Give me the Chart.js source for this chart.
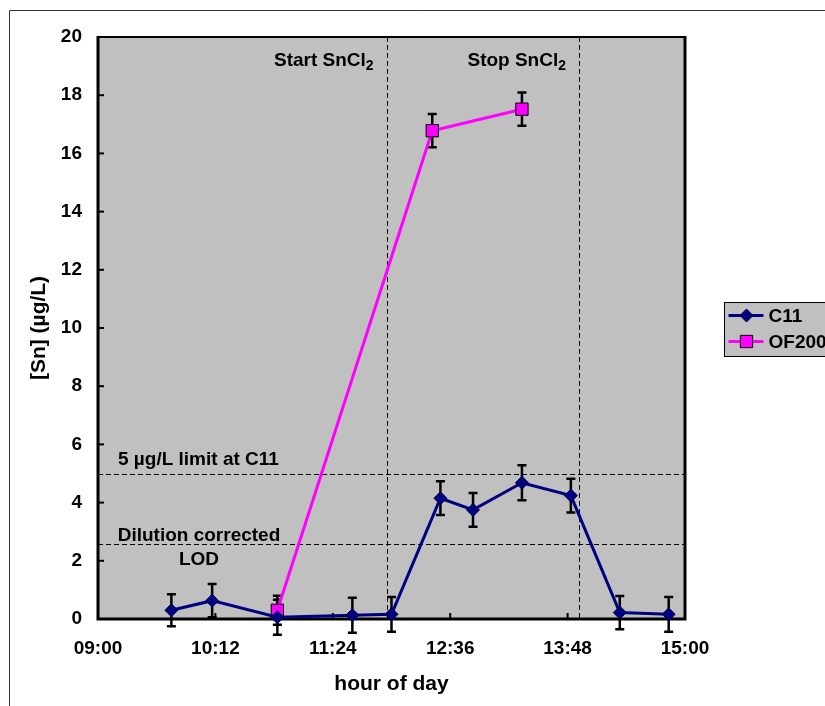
<!DOCTYPE html>
<html>
<head>
<meta charset="utf-8">
<script src="https://cdn.jsdelivr.net/npm/chart.js@4/dist/chart.umd.min.js"></script>
<style>
  html, body { margin: 0; padding: 0; background: #fff; }
</style>
</head>
<body>
<canvas id="chart" width="825" height="706"></canvas>
<script>
// sampling times (hh:mm) and tin concentrations in µg/L, with error bar half widths
const c11Times = ['09:45', '10:10', '10:50', '11:36', '12:00', '12:30', '12:50', '13:20', '13:50', '14:20', '14:50'];
const c11Values = [0.30, 0.63, 0.06, 0.13, 0.16, 4.15, 3.75, 4.68, 4.24, 0.22, 0.16];
const c11Errors = [0.55, 0.57, 0.60, 0.60, 0.60, 0.58, 0.58, 0.60, 0.58, 0.57, 0.60];

const of200Times = ['10:50', '12:25', '13:20'];
const of200Values = [0.30, 16.78, 17.52];
const of200Errors = [0.50, 0.57, 0.57];

const xTickLabels = ['09:00', '10:12', '11:24', '12:36', '13:48', '15:00'];
const yTickValues = [0, 2, 4, 6, 8, 10, 12, 14, 16, 18, 20];

// SnCl2 dosing start / stop and the two reference levels
const eventTimes = ['11:57', '13:55'];
const eventLabels = ['Start SnCl', 'Stop SnCl'];
const limitLevels = [5, 2.57];

const FONT = "'Liberation Sans', Arial, sans-serif";
Chart.defaults.font.family = FONT;
Chart.defaults.color = '#000';

function toMin(s) {
    const p = s.split(':');
    return (+p[0]) * 60 + (+p[1]) - 9 * 60;
}

function points(times, values) {
    return times.map((t, i) => ({ x: toMin(t), y: values[i] }));
}

const errorData = [c11Errors, of200Errors];

// grey plot background, dashed markers, error bars, frame
const plotExtras = {
    id: 'plotExtras',
    beforeDatasetsDraw(chart) {
        const { ctx, chartArea: a, scales: { x, y } } = chart;
        ctx.save();
        ctx.fillStyle = '#C0C0C0';
        ctx.fillRect(a.left, a.top, a.right - a.left, a.bottom - a.top);

        // dashed lines
        ctx.strokeStyle = '#000';
        ctx.lineWidth = 1;
        ctx.setLineDash([5, 3]);
        eventTimes.forEach(t => {
            const px = Math.round(x.getPixelForValue(toMin(t))) + 0.5;
            ctx.beginPath();
            ctx.moveTo(px, a.top);
            ctx.lineTo(px, a.bottom);
            ctx.stroke();
        });
        limitLevels.forEach(v => {
            const py = Math.round(y.getPixelForValue(v)) + 0.5;
            ctx.beginPath();
            ctx.moveTo(a.left, py);
            ctx.lineTo(a.right, py);
            ctx.stroke();
        });
        ctx.setLineDash([]);

        // frame
        ctx.strokeStyle = '#000';
        ctx.lineWidth = 2;
        ctx.beginPath();
        ctx.moveTo(a.left, a.top);
        ctx.lineTo(a.right, a.top);
        ctx.stroke();
        ctx.lineWidth = 3;
        ctx.beginPath();
        ctx.moveTo(a.left, a.top - 1);
        ctx.lineTo(a.left, a.bottom);
        ctx.lineTo(a.right, a.bottom);
        ctx.lineTo(a.right, a.top - 1);
        ctx.stroke();

        // inward tick marks
        ctx.lineWidth = 2;
        yTickValues.forEach(v => {
            const py = y.getPixelForValue(v);
            ctx.beginPath();
            ctx.moveTo(a.left, py);
            ctx.lineTo(a.left + 6, py);
            ctx.stroke();
        });
        xTickLabels.forEach((l, i) => {
            const px = x.getPixelForValue(i * 72);
            ctx.beginPath();
            ctx.moveTo(px, a.bottom);
            ctx.lineTo(px, a.bottom - 6);
            ctx.stroke();
        });

        // error bars
        ctx.lineWidth = 2.5;
        chart.data.datasets.forEach((ds, di) => {
            ds.data.forEach((p, i) => {
                const e = errorData[di][i];
                const px = x.getPixelForValue(p.x);
                const y1 = y.getPixelForValue(p.y + e);
                const y2 = y.getPixelForValue(p.y - e);
                ctx.beginPath();
                ctx.moveTo(px, y1);
                ctx.lineTo(px, y2);
                ctx.moveTo(px - 4.5, y1);
                ctx.lineTo(px + 4.5, y1);
                ctx.moveTo(px - 4.5, y2);
                ctx.lineTo(px + 4.5, y2);
                ctx.stroke();
            });
        });
        ctx.restore();
    },
    afterDraw(chart) {
        const { ctx, chartArea: a, scales: { x, y } } = chart;
        ctx.save();

        // outer frame of the chart
        ctx.strokeStyle = '#333';
        ctx.lineWidth = 1;
        ctx.beginPath();
        ctx.moveTo(9.5, chart.height);
        ctx.lineTo(9.5, 10.5);
        ctx.lineTo(chart.width, 10.5);
        ctx.stroke();

        ctx.fillStyle = '#000';
        ctx.textBaseline = 'alphabetic';
        const big = 'bold 19px ' + FONT;
        const small = 'bold 14px ' + FONT;

        // Start / Stop SnCl2 labels, right aligned next to their lines
        eventTimes.forEach((t, i) => {
            const right = x.getPixelForValue(toMin(t)) - 13;
            const by = y.getPixelForValue(19.0);
            ctx.font = big;
            const w1 = ctx.measureText(eventLabels[i]).width;
            ctx.font = small;
            const w2 = ctx.measureText('2').width;
            ctx.font = big;
            ctx.textAlign = 'left';
            ctx.fillText(eventLabels[i], right - w1 - w2, by);
            ctx.font = small;
            ctx.fillText('2', right - w2, by + 4);
        });

        ctx.font = big;
        ctx.textAlign = 'left';
        const l5 = y.getPixelForValue(limitLevels[0]);
        ctx.fillText('5 µg/L limit at C11', a.left + 20, l5 - 9);

        const lod = y.getPixelForValue(limitLevels[1]);
        ctx.textAlign = 'center';
        ctx.fillText('Dilution corrected', a.left + 101, lod - 3);
        ctx.fillText('LOD', a.left + 101, lod + 21);

        // legend box
        const lx = 724.5, ly = 302.5;
        ctx.fillStyle = '#C0C0C0';
        ctx.fillRect(lx, ly, 120, 54);
        ctx.strokeStyle = '#000';
        ctx.lineWidth = 1;
        ctx.strokeRect(lx, ly, 120, 54);
        chart.data.datasets.forEach((ds, i) => {
            const cy = ly + 13 + i * 26;
            ctx.strokeStyle = ds.borderColor;
            ctx.lineWidth = 3;
            ctx.beginPath();
            ctx.moveTo(lx + 4, cy);
            ctx.lineTo(lx + 39, cy);
            ctx.stroke();
            ctx.fillStyle = ds.pointBackgroundColor;
            ctx.strokeStyle = ds.pointBorderColor;
            ctx.lineWidth = ds.pointBorderWidth;
            Chart.helpers.drawPoint(ctx, {
                pointStyle: ds.pointStyle,
                radius: ds.pointRadius,
                borderWidth: ds.pointBorderWidth
            }, lx + 22, cy);
            ctx.fillStyle = '#000';
            ctx.font = big;
            ctx.textAlign = 'left';
            ctx.textBaseline = 'middle';
            ctx.fillText(ds.label, lx + 44, cy + 1);
        });
        ctx.restore();
    }
};

new Chart(document.getElementById('chart'), {
    type: 'line',
    data: {
        datasets: [{
            label: 'C11',
            data: points(c11Times, c11Values),
            borderColor: '#000080',
            backgroundColor: '#000080',
            borderWidth: 3,
            pointStyle: 'rectRot',
            pointRadius: 6.5,
            pointHoverRadius: 6.5,
            pointBackgroundColor: '#000080',
            pointBorderColor: '#000040',
            pointBorderWidth: 1,
            tension: 0,
            clip: false
        }, {
            label: 'OF200',
            data: points(of200Times, of200Values),
            borderColor: '#FF00FF',
            backgroundColor: '#FF00FF',
            borderWidth: 3,
            pointStyle: 'rect',
            pointRadius: 8.7,
            pointHoverRadius: 8.7,
            pointBackgroundColor: '#FF00FF',
            pointBorderColor: '#000',
            pointBorderWidth: 1,
            tension: 0,
            clip: false
        }]
    },
    options: {
        responsive: false,
        animation: false,
        devicePixelRatio: 1,
        layout: { padding: { top: 37, right: 140, left: 0, bottom: 0 } },
        plugins: {
            legend: { display: false },
            tooltip: { enabled: false }
        },
        scales: {
            x: {
                type: 'linear',
                min: 0,
                max: 360,
                afterFit: s => { s.height = 87; },
                afterBuildTicks: s => { s.ticks = xTickLabels.map((l, i) => ({ value: i * 72 })); },
                grid: { display: false, drawTicks: false, tickLength: 0 },
                border: { display: false },
                ticks: {
                    autoSkip: false,
                    maxRotation: 0,
                    padding: 18,
                    font: { size: 19, weight: 'bold' },
                    callback: (v, i) => xTickLabels[i]
                },
                title: {
                    display: true,
                    text: 'hour of day',
                    font: { size: 21, weight: 'bold' },
                    padding: { top: 0, bottom: 9 }
                }
            },
            y: {
                min: 0,
                max: 20,
                afterFit: s => { s.width = 98; },
                afterBuildTicks: s => { s.ticks = yTickValues.map(v => ({ value: v })); },
                grid: { display: false, drawTicks: false, tickLength: 0 },
                border: { display: false },
                ticks: {
                    padding: 16,
                    font: { size: 19, weight: 'bold' }
                },
                title: {
                    display: true,
                    text: '[Sn] (µg/L)',
                    font: { size: 21, weight: 'bold' },
                    padding: { top: 27, bottom: 0 }
                }
            }
        }
    },
    plugins: [plotExtras]
});
</script>
</body>
</html>
